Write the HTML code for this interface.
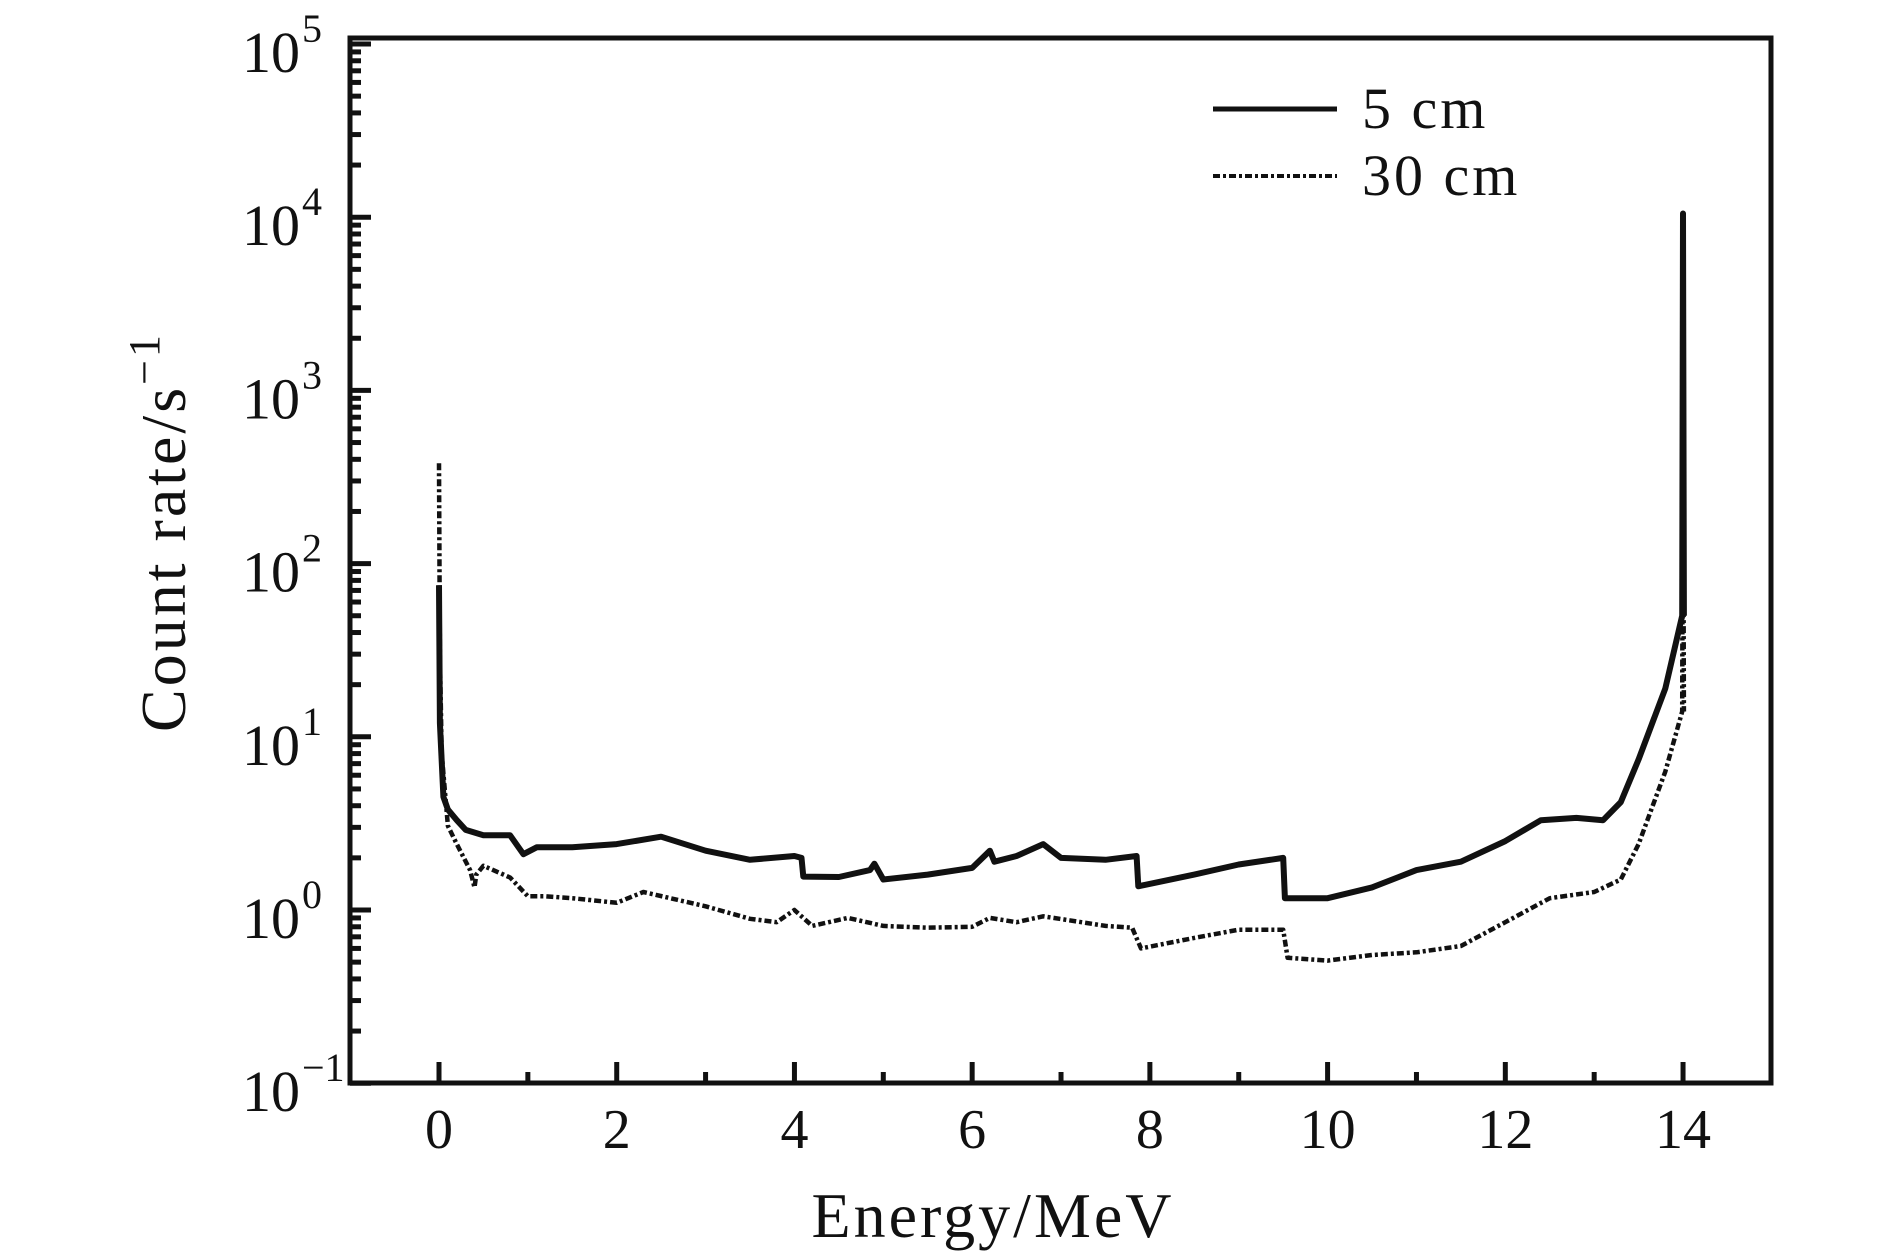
<!DOCTYPE html>
<html><head><meta charset="utf-8"><style>
html,body{margin:0;padding:0;background:#fff;}
svg{display:block;}
text{font-family:"Liberation Serif",serif;fill:#111;}
</style></head><body>
<svg id="chart" width="1890" height="1252" viewBox="0 0 1890 1252" xmlns="http://www.w3.org/2000/svg">
<rect x="0" y="0" width="1890" height="1252" fill="#fff"/>
<g id="marks"></g>
<rect x="350" y="38" width="1421" height="1045" fill="none" stroke="#111" stroke-width="5"/>
<g id="axes"></g>
<text x="993" y="1237" font-size="64" letter-spacing="3" text-anchor="middle">Energy/MeV</text>
<text transform="translate(185,532) rotate(-90)" font-size="64" letter-spacing="3" text-anchor="middle">Count rate/s<tspan dy="-26" font-size="44">−1</tspan></text>
<g>
<line x1="1213" y1="109" x2="1337" y2="109" stroke="#111" stroke-width="5"/>
<text x="1362" y="128" font-size="58" letter-spacing="3">5 cm</text>
<line x1="1213" y1="176" x2="1337" y2="176" stroke="#111" stroke-width="4" stroke-dasharray="7,3,3,3"/>
<text x="1362" y="195" font-size="58" letter-spacing="3">30 cm</text>
</g>
</svg>
<script>
const xTicks=[0,2,4,6,8,10,12,14];
const yDecades=[-1,0,1,2,3,4,5];
const e5=[0,0.01,0.05,0.1,0.2,0.3,0.5,0.8,0.95,1.1,1.5,2.0,2.5,3.0,3.5,4.0,4.08,4.1,4.5,4.85,4.9,5.0,5.5,6.0,6.2,6.25,6.5,6.8,7.0,7.5,7.85,7.87,8.5,9.0,9.5,9.52,10.0,10.5,11.0,11.5,12.0,12.4,12.8,13.1,13.3,13.5,13.8,13.99,14.0,14.01];
const v5=[75,12,4.5,3.8,3.3,2.9,2.7,2.7,2.1,2.3,2.3,2.4,2.65,2.2,1.95,2.05,2.0,1.56,1.55,1.7,1.85,1.5,1.6,1.75,2.2,1.9,2.05,2.4,2.0,1.95,2.05,1.37,1.6,1.83,2.0,1.17,1.17,1.35,1.7,1.9,2.5,3.3,3.4,3.3,4.2,7.4,19,50,10500,50];
const e30=[0,0.01,0.03,0.1,0.2,0.35,0.4,0.42,0.5,0.8,1.0,1.2,1.5,2.0,2.3,3.0,3.5,3.8,4.0,4.2,4.6,5.0,5.5,6.0,6.2,6.5,6.8,7.5,7.8,7.9,8.5,9.0,9.5,9.55,10.0,10.5,11.0,11.5,12.0,12.5,13.0,13.3,13.5,13.8,13.99,14.0,14.01];
const v30=[380,30,8,3.06,2.4,1.7,1.35,1.6,1.8,1.54,1.2,1.2,1.17,1.1,1.27,1.05,0.89,0.85,1.0,0.81,0.9,0.81,0.79,0.8,0.9,0.85,0.92,0.81,0.79,0.6,0.69,0.77,0.77,0.53,0.51,0.55,0.57,0.62,0.85,1.17,1.27,1.5,2.4,6.3,14,900,14];
const NS="http://www.w3.org/2000/svg";
function xS(e){return 439+e*88.86;}
function yS(v){return 910-Math.log10(v)*173.2;}
const axes=document.getElementById('axes'),marks=document.getElementById('marks');
function mk(tag,attrs,parent){const el=document.createElementNS(NS,tag);for(const k in attrs)el.setAttribute(k,attrs[k]);parent.appendChild(el);return el;}
for(let e=0;e<=14;e++){
 const major=e%2===0;
 const t=mk('line',{x1:xS(e),x2:xS(e),y1:1083,y2:1083-(major?21:11),stroke:'#111','stroke-width':5},axes);
 
 
}
xTicks.forEach(e=>{
 const t=mk('text',{x:xS(e),y:1148,'font-size':56,'text-anchor':'middle'},axes);
 t.textContent=e;
 
 
});
yDecades.forEach(d=>{
 const y=yS(Math.pow(10,d));
 const t=mk('line',{x1:350,x2:371,y1:y,y2:y,stroke:'#111','stroke-width':5},axes);
 
 
 if(d<5){for(let m=2;m<=9;m++){const ym=yS(m*Math.pow(10,d));
  const mt=mk('line',{x1:350,x2:361,y1:ym,y2:ym,stroke:'#111','stroke-width':5},axes);
  
  }}
 const lb=mk('text',{x:300,y:y+28,'font-size':58,'text-anchor':'end'},axes);
 lb.textContent='10';
 
 
 const sp=mk('text',{x:302,y:y-2,'font-size':40,'text-anchor':'start'},axes);
 sp.textContent=d<0?'−1':String(d);
 
 
});
function pts(E,V){return E.map((e,i)=>xS(e).toFixed(1)+','+yS(V[i]).toFixed(1)).join(' ');}
const l30=mk('polyline',{points:pts(e30,v30),fill:'none',stroke:'#111','stroke-width':4.5,'stroke-dasharray':'7,3,3,3','stroke-linejoin':'round'},marks);


const l5=mk('polyline',{points:pts(e5,v5),fill:'none',stroke:'#111','stroke-width':6,'stroke-linejoin':'round'},marks);


</script>
</body></html>
